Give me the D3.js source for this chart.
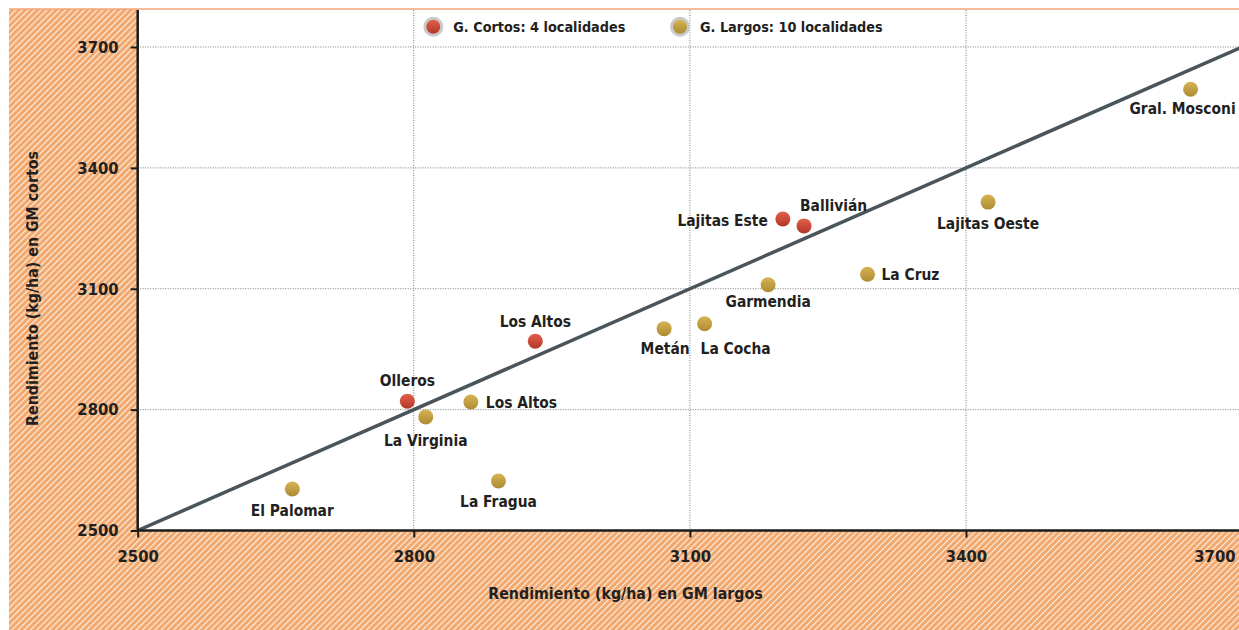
<!DOCTYPE html>
<html>
<head>
<meta charset="utf-8">
<script src="https://cdn.jsdelivr.net/npm/d3@7"></script>
<style>
  body { margin: 0; background: #fff; }
  svg text { font-family: "DejaVu Sans Condensed", "DejaVu Sans", sans-serif; font-weight: bold; font-stretch: condensed; fill: #231f20; }
</style>
</head>
<body>
<svg id="chart"></svg>
<script>
// data
var cortosNames = ["Olleros", "Los Altos", "Lajitas Este", "Ballivián"];
var cortosX = [2793, 2932, 3201, 3224];
var cortosY = [2821, 2970, 3273, 3256];

var largosNames = ["El Palomar", "La Virginia", "Los Altos", "La Fragua", "Metán", "La Cocha",
                   "Garmendia", "La Cruz", "Lajitas Oeste", "Gral. Mosconi"];
var largosX = [2668, 2813, 2862, 2892, 3072, 3116, 3185, 3293, 3424, 3644];
var largosY = [2603, 2782, 2819, 2623, 3001, 3013, 3110, 3136, 3315, 3595];

var ticks = [2500, 2800, 3100, 3400, 3700];
var legendLabels = ["G. Cortos: 4 localidades", "G. Largos: 10 localidades"];
var xTitle = "Rendimiento (kg/ha) en GM largos";
var yTitle = "Rendimiento (kg/ha) en GM cortos";

// label placement (anchor, dx, dy) -- layout only
var cortosLab = [["middle", 0, -15], ["middle", 0, -14], ["end", -15, 7], ["start", -4, -15]];
var largosLab = [["middle", 0, 27], ["middle", 0, 29], ["start", 15, 6], ["middle", 0, 26], ["middle", 1, 25],
                 ["start", -4, 30], ["middle", 0, 22], ["start", 14, 6], ["middle", 0, 27], ["middle", -8, 25]];

var W = 1239, H = 630;
var margin = { top: 10, right: 0, bottom: 99.5, left: 137.7 };
var width = W - margin.left - margin.right;
var height = H - margin.top - margin.bottom;

var svg = d3.select("#chart").attr("width", W).attr("height", H);
var defs = svg.append("defs");

// hatch pattern for the frame
var pat = defs.append("pattern").attr("id", "hatch")
  .attr("patternUnits", "userSpaceOnUse")
  .attr("width", 4.4).attr("height", 4.4)
  .attr("patternTransform", "rotate(45)");
pat.append("rect").attr("width", 4.4).attr("height", 4.4).attr("fill", "#f2a86d");
pat.append("line").attr("x1", 0.6).attr("y1", 0).attr("x2", 0.6).attr("y2", 4.4)
  .attr("stroke", "#fff").attr("stroke-width", 1.1).attr("stroke-opacity", 0.85);

function grad(id, top, bottom) {
  var g = defs.append("linearGradient").attr("id", id).attr("x1", 0).attr("y1", 0).attr("x2", 0).attr("y2", 1);
  g.append("stop").attr("offset", "0%").attr("stop-color", top);
  g.append("stop").attr("offset", "100%").attr("stop-color", bottom);
}
grad("gRed", "#e2604a", "#b3372a");
grad("gGold", "#d6b352", "#ad8b34");

defs.append("clipPath").attr("id", "plotClip")
  .append("rect").attr("x", 0).attr("y", 0).attr("width", width).attr("height", height);

// frame
svg.append("rect").attr("x", 9).attr("y", 9).attr("width", W - 9).attr("height", H - 9).attr("fill", "url(#hatch)");
svg.append("rect").attr("x", margin.left).attr("y", 9).attr("width", width).attr("height", height + 1).attr("fill", "#fff");
svg.append("line").attr("x1", 9).attr("x2", W).attr("y1", 9).attr("y2", 9)
  .attr("stroke", "#f0a677").attr("stroke-width", 1.5);

var chart = svg.append("g").attr("transform", `translate(${margin.left},${margin.top})`);

var x = d3.scaleLinear().domain([2500, 3700]).range([0, 1104.4]);
var y = d3.scaleLinear().domain([2500, 3700]).range([height, height - 483.5]);

// gridlines
chart.append("g").selectAll("line").data(ticks.slice(1)).enter().append("line")
  .attr("x1", 0).attr("x2", width)
  .attr("y1", d => y(d)).attr("y2", d => y(d))
  .attr("stroke", "#7a7a7a").attr("stroke-width", 1).attr("stroke-dasharray", "1,1.5");
chart.append("g").selectAll("line").data(ticks.slice(1, 4)).enter().append("line")
  .attr("x1", d => x(d)).attr("x2", d => x(d))
  .attr("y1", 0).attr("y2", height)
  .attr("stroke", "#7a7a7a").attr("stroke-width", 1).attr("stroke-dasharray", "1,1.5");

// 1:1 line
chart.append("line").attr("clip-path", "url(#plotClip)")
  .attr("x1", x(2500)).attr("y1", y(2500)).attr("x2", x(3700)).attr("y2", y(3700))
  .attr("stroke", "#4a545b").attr("stroke-width", 3.5);

// axes
var fmt = d3.format("d");
var xAxis = chart.append("g").attr("transform", `translate(0,${height})`)
  .call(d3.axisBottom(x).tickValues(ticks).tickFormat(fmt).tickSize(7).tickPadding(13).tickSizeOuter(0));
var yAxis = chart.append("g")
  .call(d3.axisLeft(y).tickValues(ticks).tickFormat(fmt).tickSize(7).tickPadding(12).tickSizeOuter(0));
[xAxis, yAxis].forEach(a => {
  a.select(".domain").remove();
  a.selectAll(".tick line").attr("stroke", "#1a1a1a").attr("stroke-width", 2);
  a.selectAll(".tick text").style("font-size", "16.5px").attr("fill", "#231f20");
});
xAxis.selectAll(".tick text").filter(d => d === 3700).attr("text-anchor", "end").attr("x", -7);
chart.append("line").attr("x1", 0).attr("x2", width).attr("y1", height).attr("y2", height)
  .attr("stroke", "#1a1a1a").attr("stroke-width", 2.5);
chart.append("line").attr("x1", 0).attr("x2", 0).attr("y1", 0).attr("y2", height)
  .attr("stroke", "#1a1a1a").attr("stroke-width", 2.5);

// axis titles
svg.append("text").attr("x", 625.5).attr("y", 599).attr("text-anchor", "middle")
  .style("font-size", "15.8px").text(xTitle);
svg.append("text").attr("transform", "translate(38,288.5) rotate(-90)").attr("text-anchor", "middle")
  .style("font-size", "15.8px").text(yTitle);

// points + labels
function drawGroup(names, xs, ys, lab, fill) {
  var g = chart.append("g");
  var rows = names.map((n, i) => ({ name: n, x: xs[i], y: ys[i], lab: lab[i] }));
  g.selectAll("circle").data(rows).enter().append("circle")
    .attr("cx", d => x(d.x)).attr("cy", d => y(d.y)).attr("r", 7.5)
    .attr("fill", fill);
  g.selectAll("text").data(rows).enter().append("text")
    .attr("x", d => x(d.x) + d.lab[1]).attr("y", d => y(d.y) + d.lab[2])
    .attr("text-anchor", d => d.lab[0])
    .style("font-size", "15.4px").text(d => d.name);
}
drawGroup(largosNames, largosX, largosY, largosLab, "url(#gGold)");
drawGroup(cortosNames, cortosX, cortosY, cortosLab, "url(#gRed)");

// legend
var legendX = [433.3, 680];
var legendFill = ["url(#gRed)", "url(#gGold)"];
var leg = svg.append("g").selectAll("g").data(legendLabels).enter().append("g")
  .attr("transform", (d, i) => `translate(${legendX[i]},26.7)`);
leg.append("circle").attr("r", 10).attr("fill", "#cacaca");
leg.append("circle").attr("r", 7).attr("fill", (d, i) => legendFill[i]);
leg.append("text").attr("x", 20).attr("y", 5.5).style("font-size", "14.3px").text(d => d);
</script>
</body>
</html>
